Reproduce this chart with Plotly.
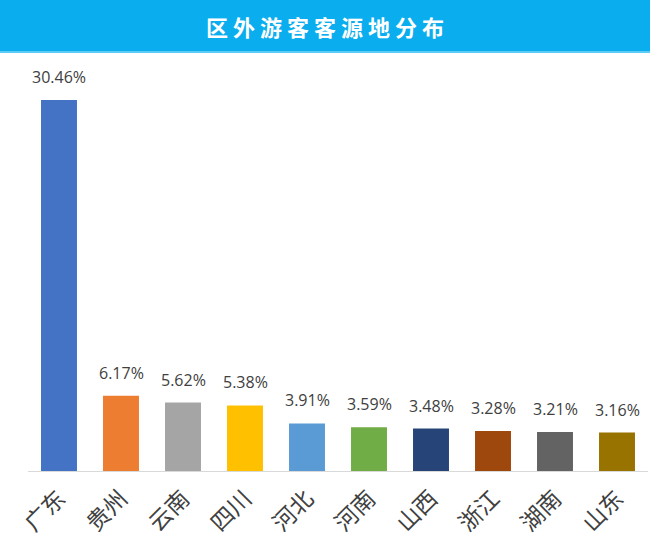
import plotly.graph_objects as go

provinces = ["广东", "贵州", "云南", "四川", "河北", "河南", "山西", "浙江", "湖南", "山东"]
shares = [30.46, 6.17, 5.62, 5.38, 3.91, 3.59, 3.48, 3.28, 3.21, 3.16]
bar_colors = ["#4472C4", "#ED7D31", "#A5A5A5", "#FFC000", "#5B9BD5",
              "#70AD47", "#264478", "#9E480E", "#636363", "#997300"]

W, H = 650, 552
plot_left, plot_right = 28, 648
plot_top, plot_bottom = 60, 471
px_per_unit = 12.18
ymax = (plot_bottom - plot_top) / px_per_unit
paper_h = plot_bottom - plot_top
paper_w = plot_right - plot_left

fig = go.Figure(
    go.Bar(
        x=provinces,
        y=shares,
        marker=dict(color=bar_colors, line=dict(width=0)),
        hoverinfo="skip",
    )
)

# value labels above bars
for p, v in zip(provinces, shares):
    fig.add_annotation(
        x=p, y=v, text=f"{v:.2f}%", showarrow=False,
        yanchor="middle", yshift=23,
        font=dict(size=16, color="#404040", family="Open Sans, Noto Sans CJK SC"),
    )

# title band
fig.add_shape(
    type="rect", xref="paper", yref="paper",
    x0=-0.1, x1=1.1,
    y0=(plot_bottom - 52) / paper_h, y1=(plot_bottom + 5) / paper_h,
    fillcolor="#0AADEE", line=dict(width=0), layer="below",
)
fig.add_shape(
    type="line", xref="paper", yref="paper",
    x0=-0.1, x1=1.1,
    y0=(plot_bottom - 52) / paper_h, y1=(plot_bottom - 52) / paper_h,
    line=dict(color="#5CCBF5", width=2),
)

fig.add_annotation(
    text="<b>区 外 游 客 客 源 地 分 布</b>",
    xref="paper", yref="paper",
    x=(W / 2 - plot_left) / paper_w, y=(plot_bottom - 26) / paper_h,
    showarrow=False,
    font=dict(size=22, color="white", family="Noto Sans CJK SC"),
    xanchor="center", yanchor="middle",
)

fig.update_layout(
    width=W, height=H,
    margin=dict(l=plot_left, r=W - plot_right, t=plot_top, b=H - plot_bottom),
    paper_bgcolor="white", plot_bgcolor="white",
    bargap=0.42,
    showlegend=False,
    font=dict(family="Noto Sans CJK SC"),
)
fig.update_xaxes(
    tickangle=-45,
    tickfont=dict(size=23, color="#404040", family="Noto Sans CJK SC"),
    ticklabelstandoff=4,
    showline=True, linecolor="#D9D9D9", linewidth=1,
    ticks="", showgrid=False,
)
fig.update_yaxes(
    range=[0, ymax], visible=False, showgrid=False, zeroline=False,
)

fig.write_html("out.html", config={"displayModeBar": False},
               post_script="document.body.style.margin='0';")
